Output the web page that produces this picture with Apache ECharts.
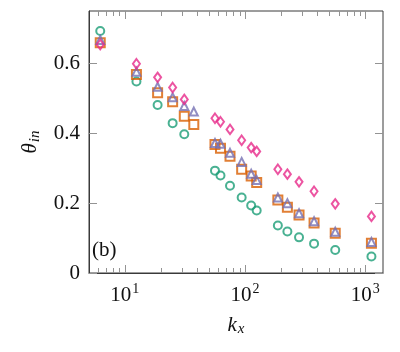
<!DOCTYPE html>
<html><head><meta charset="utf-8">
<script src="https://cdn.jsdelivr.net/npm/echarts@6/dist/echarts.min.js"></script>
<style>html,body{margin:0;padding:0;background:#fff}#c{width:400px;height:352px}</style>
</head><body><div id="c"></div>
<script>
// ---- data ----
const kx = [6.25, 12.5, 18.75, 25, 31.25, 37.5, 56.25, 62.5, 75, 93.75, 112.5, 125, 187.5, 225, 281.25, 375, 562.5, 1125];
const circles   = [0.693, 0.548, 0.481, 0.429, 0.397, null, 0.293, 0.279, 0.250, 0.216, 0.193, 0.179, 0.136, 0.119, 0.102, 0.084, 0.066, 0.047];
const squares   = [0.659, 0.568, 0.516, 0.490, 0.449, 0.425, 0.368, 0.357, 0.334, 0.297, 0.278, 0.259, 0.209, 0.188, 0.166, 0.143, 0.114, 0.085];
const triangles = [0.667, 0.576, 0.533, 0.503, 0.478, 0.462, 0.372, 0.370, 0.344, 0.318, 0.284, 0.266, 0.216, 0.200, 0.171, 0.148, 0.118, 0.089];
const diamonds  = [0.654, 0.599, 0.560, 0.531, 0.497, null, 0.443, 0.433, 0.411, 0.380, 0.359, 0.348, 0.297, 0.283, 0.261, 0.234, 0.198, 0.162];
const xMajorExponents = [1, 2, 3];
const xMinorTicks = [6, 7, 8, 9, 20, 30, 40, 50, 60, 70, 80, 90, 200, 300, 400, 500, 600, 700, 800, 900];
const yTicks = [0, 0.2, 0.4, 0.6];
const yTickLabels = ['0', '0.2', '0.4', '0.6'];

const X_MIN = 5.04, X_MAX = 1404, Y_MIN = 0, Y_MAX = 0.75;
const FONT = 'Liberation Serif';
const FRAME = '#3a3a3a';
const TICK = '#939393';
const MAJOR_LEN = 8, MINOR_LEN = 5;

function pairs(ys) {
  const out = [];
  kx.forEach((x, i) => { if (ys[i] !== null) out.push([x, ys[i]]); });
  return out;
}
function xLabel(v) {
  const e = Math.log10(v), r = Math.round(e);
  if (Math.abs(e - r) < 1e-6 && xMajorExponents.indexOf(r) >= 0) return '{b|10}{sup|' + r + '}';
  return '';
}
function yLabel(v) {
  for (let i = 0; i < yTicks.length; i++) if (Math.abs(v - yTicks[i]) < 1e-9) return yTickLabels[i];
  return '';
}
function tickLine(x1, y1, x2, y2) {
  return {type: 'line', shape: {x1, y1, x2, y2}, style: {stroke: TICK, lineWidth: 1}};
}

const chart = echarts.init(document.getElementById('c'), null, {renderer: 'canvas'});
const markerSeries = (name, data, symbol, size, color) => ({
  name, type: 'scatter', data, symbol, symbolSize: size,
  xAxisIndex: 0, yAxisIndex: 0,
  itemStyle: {color: 'rgba(0,0,0,0)', borderColor: color, borderWidth: 2},
  emphasis: {disabled: true}, silent: true, z: 3
});

// x ticks drawn on the top edge and minor ticks on both edges: [value, isMajor]
const xTickItems = xMinorTicks.map(v => [v, 0]).concat(xMajorExponents.map(e => [Math.pow(10, e), 1]));

chart.setOption({
  animation: false,
  grid: {left: 89, right: 17, top: 11, bottom: 79, containLabel: false,
    show: true, borderColor: FRAME, borderWidth: 1, backgroundColor: 'rgba(0,0,0,0)'},
  xAxis: [{
    type: 'log', logBase: 10, min: X_MIN, max: X_MAX, position: 'bottom',
    axisLine: {show: true, lineStyle: {color: FRAME, width: 1}},
    axisTick: {show: true, inside: true, length: MAJOR_LEN, lineStyle: {color: TICK}},
    splitLine: {show: false}, minorTick: {show: false},
    axisLabel: {
      show: true, showMinLabel: false, showMaxLabel: false, margin: 11,
      formatter: xLabel,
      rich: {
        b: {fontFamily: FONT, fontSize: 21, color: '#111', lineHeight: 22},
        sup: {fontFamily: FONT, fontSize: 14, color: '#111', lineHeight: 14, padding: [0, 0, 12, 1]}
      }
    },
    name: '{k|k}{s|x}', nameLocation: 'middle', nameGap: 41,
    nameTextStyle: {
      rich: {
        k: {fontFamily: FONT, fontStyle: 'italic', fontSize: 21, color: '#111', lineHeight: 22},
        s: {fontFamily: FONT, fontStyle: 'italic', fontSize: 15, color: '#111', lineHeight: 15, padding: [9, 0, 0, 1]}
      }
    }
  }],
  yAxis: [{
    type: 'value', min: Y_MIN, max: Y_MAX, interval: 0.2, position: 'left',
    axisLine: {show: true, lineStyle: {color: FRAME, width: 1}},
    axisTick: {show: true, inside: true, length: MAJOR_LEN, lineStyle: {color: TICK}},
    splitLine: {show: false},
    axisLabel: {show: true, showMaxLabel: false, margin: 9, formatter: yLabel,
      fontFamily: FONT, fontSize: 21, color: '#111'},
    name: '{t|θ}{s|in}', nameLocation: 'middle', nameGap: 47,
    nameTextStyle: {
      rich: {
        t: {fontFamily: FONT, fontStyle: 'italic', fontSize: 21, color: '#111', lineHeight: 22},
        s: {fontFamily: FONT, fontStyle: 'italic', fontSize: 15, color: '#111', lineHeight: 15, padding: [9, 0, 0, 1]}
      }
    }
  }],
  graphic: [{
    type: 'text', left: 92, top: 240, silent: true,
    style: {text: '(b)', fontFamily: FONT, fontSize: 21, fill: '#111'}
  }],
  series: [
    {
      type: 'custom', name: 'xTicks', xAxisIndex: 0, yAxisIndex: 0, silent: true, clip: false, z: 1,
      data: xTickItems,
      encode: {x: 0},
      renderItem: function (params, api) {
        const v = api.value(0), major = api.value(1) === 1;
        const b = api.coord([v, Y_MIN]);
        const t = api.coord([v, Y_MAX]);
        const x = Math.round(b[0]) + 0.5;
        const kids = [tickLine(x, t[1], x, t[1] + (major ? MAJOR_LEN : MINOR_LEN))];
        if (!major) kids.push(tickLine(x, b[1], x, b[1] - MINOR_LEN));
        return {type: 'group', children: kids};
      }
    },
    {
      type: 'custom', name: 'yTicksRight', xAxisIndex: 0, yAxisIndex: 0, silent: true, clip: false, z: 1,
      data: yTicks.map(v => [X_MAX, v]),
      encode: {x: 0, y: 1},
      renderItem: function (params, api) {
        const p = api.coord([api.value(0), api.value(1)]);
        const y = Math.round(p[1]) + 0.5;
        return tickLine(p[0], y, p[0] - MAJOR_LEN, y);
      }
    },
    markerSeries('circles', pairs(circles), 'circle', 8, '#1b9e77'),
    markerSeries('squares', pairs(squares), 'rect', 9, '#d95f02'),
    markerSeries('triangles', pairs(triangles), 'triangle', 8, '#7570b3'),
    markerSeries('diamonds', pairs(diamonds), 'diamond', [7, 9.5], '#e7298a')
  ]
});
</script>
</body></html>
